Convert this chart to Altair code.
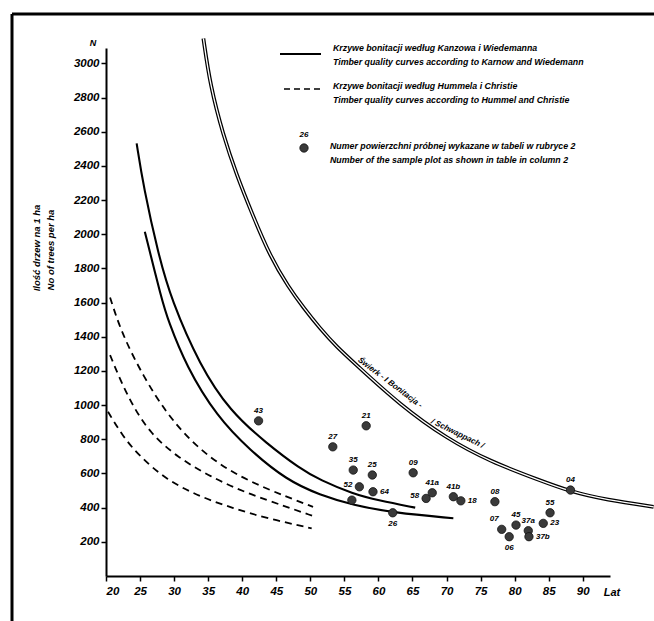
import altair as alt
import pandas as pd

# ---------------- data ----------------
X_TICKS = [20, 25, 30, 35, 40, 45, 50, 55, 60, 65, 70, 75, 80, 85, 90]
Y_TICKS = [200, 400, 600, 800, 1000, 1200, 1400, 1600, 1800, 2000, 2200, 2400, 2600, 2800, 3000]

# Schwappach (spruce, I quality class) - double line
SCHW_AGE = [34.3, 35.3, 37.2, 39.2, 41.4, 44.1, 46.8, 49.0, 51.4, 53.9, 56.5, 63.2, 70.0, 76.4, 83.7, 88.1, 93.5, 100.4]
SCHW_N = [3146, 2870, 2580, 2345, 2125, 1870, 1690, 1570, 1450, 1340, 1245, 1000, 805, 670, 560, 495, 445, 405]

# Kanzow & Wiedemann curves (solid)
KW_A_AGE = [24.5, 25.5, 27.7, 29.6, 33.8, 38.2, 43.6, 48.5, 51.4, 56.3, 60.0, 65.4]
KW_A_N = [2532, 2278, 1880, 1615, 1230, 965, 775, 628, 562, 480, 442, 400]
KW_B_AGE = [25.7, 28.2, 29.1, 31.8, 36.3, 41.1, 46.5, 51.4, 56.3, 62.2, 71.0]
KW_B_N = [2015, 1615, 1498, 1225, 932, 737, 562, 474, 415, 370, 338]

# Hummel & Christie curves (dashed)
HC_1_AGE = [20.6, 22.3, 25.5, 28.9, 32.3, 36.3, 41.1, 46.5, 50.4]
HC_1_N = [1630, 1420, 1166, 952, 796, 660, 552, 464, 405]
HC_2_AGE = [20.6, 22.1, 24.0, 26.5, 30.4, 35.3, 40.7, 46.5, 50.4]
HC_2_N = [1293, 1147, 991, 835, 698, 581, 484, 405, 351]
HC_3_AGE = [20.3, 22.5, 25.0, 28.9, 33.8, 38.7, 43.6, 50.2]
HC_3_N = [961, 815, 698, 562, 464, 396, 338, 279]

# sample plots
PT_LABEL = ["43", "21", "27", "35", "25", "52", "64", "", "26", "09", "58", "41a", "41b", "18",
            "08", "07", "06", "45", "37a", "37b", "23", "55", "04"]
PT_AGE = [42.4, 58.2, 53.3, 56.3, 59.1, 57.2, 59.2, 56.1, 62.1, 65.1, 67.0, 67.9, 71.0, 72.1,
          77.1, 78.1, 79.2, 80.2, 82.0, 82.1, 84.2, 85.2, 88.2]
PT_N = [908, 879, 756, 620, 591, 522, 493, 444, 370, 604, 454, 487, 464, 440,
        435, 273, 230, 298, 265, 230, 308, 370, 503]
PT_POS = ["above", "above", "above", "above", "above", "left", "right", "above", "below", "above",
          "left", "above", "above", "right", "above", "upleft", "below", "above", "above", "right",
          "right", "above", "above"]

# ---------------- layout ----------------
PAD_L, PAD_T, PAD_R, PAD_B = 106, 48, 44, 45
W, H = 654 - PAD_L - PAD_R, 621 - PAD_T - PAD_B
FONT = "Liberation Sans"

x_scale = alt.Scale(domain=[20, 94], nice=False, zero=False)
y_scale = alt.Scale(domain=[0, 3090], nice=False, zero=True)

axis_common = dict(grid=False, domainColor="black", domainWidth=2, tickColor="black", tickWidth=1.5,
                   tickSize=5, labelFont=FONT, labelFontStyle="italic", labelFontWeight="bold",
                   labelFontSize=11.5, labelColor="black", title=None, format="d")
x_enc = alt.X("age:Q", scale=x_scale, axis=alt.Axis(values=X_TICKS, labelPadding=4, **axis_common))
y_enc = alt.Y("n:Q", scale=y_scale, axis=alt.Axis(values=Y_TICKS, labelPadding=2, **axis_common))


def curve_df(age, n, name):
    return pd.DataFrame({"age": age, "n": n, "curve": name})


schw = curve_df(SCHW_AGE, SCHW_N, "schw")
kw = pd.concat([curve_df(KW_A_AGE, KW_A_N, "A"), curve_df(KW_B_AGE, KW_B_N, "B")])
hc = pd.concat([curve_df(HC_1_AGE, HC_1_N, "1"), curve_df(HC_2_AGE, HC_2_N, "2"),
                curve_df(HC_3_AGE, HC_3_N, "3")])

layers = []

schw_outer = alt.Chart(schw).mark_line(color="black", strokeWidth=3.8, interpolate="basis").encode(
    x=x_enc, y=y_enc)
schw_inner = alt.Chart(schw).mark_line(color="white", strokeWidth=1.3, interpolate="basis").encode(
    x=x_enc, y=y_enc)
kw_lines = alt.Chart(kw).mark_line(color="black", strokeWidth=2.1, interpolate="basis").encode(
    x=x_enc, y=y_enc, detail="curve:N")
hc_lines = alt.Chart(hc).mark_line(color="black", strokeWidth=1.8, strokeDash=[7, 5],
                                   interpolate="basis").encode(x=x_enc, y=y_enc, detail="curve:N")
layers += [schw_outer, schw_inner, kw_lines, hc_lines]

pts = pd.DataFrame({"age": PT_AGE, "n": PT_N, "lab": PT_LABEL, "pos": PT_POS})
circles = alt.Chart(pts).mark_circle(size=70, color="#3a3a3a", opacity=1, stroke="#111111",
                                     strokeWidth=0.8).encode(x=x_enc, y=y_enc)
layers.append(circles)

offsets = {
    "above": (0, -10, "center"),
    "below": (0, 11, "center"),
    "left": (-7, -2, "right"),
    "right": (7, 0, "left"),
    "upleft": (-3, -10, "right"),
}
for pos, (dx, dy, al) in offsets.items():
    layers.append(
        alt.Chart(pts).transform_filter(alt.datum.pos == pos).mark_text(
            dx=dx, dy=dy, align=al, baseline="middle", font=FONT, fontSize=8,
            fontStyle="italic", fontWeight="bold", color="black").encode(x=x_enc, y=y_enc, text="lab:N"))

# curve annotation along Schwappach line
ann = pd.DataFrame({"age": [61.7, 71.6], "n": [1130, 832],
                    "t": ["Świerk - I Bonitacja -", "/ Schwappach /"], "ang": [37, 26]})
for i in range(2):
    layers.append(
        alt.Chart(ann.iloc[[i]]).mark_text(align="center", baseline="middle", font=FONT, fontSize=8,
                                           fontStyle="italic", fontWeight="bold", color="black",
                                           angle=int(ann["ang"].iloc[i])).encode(
            x=x_enc, y=y_enc, text="t:N"))


def px_text(txt, px, py, size=8, align="left", angle=0):
    return alt.Chart(pd.DataFrame({"t": [txt]})).mark_text(
        align=align, baseline="middle", fontSize=size, font=FONT, fontStyle="italic",
        fontWeight="bold", angle=angle, color="black").encode(
        x=alt.value(px - PAD_L), y=alt.value(py - PAD_T), text="t:N")


def px_rule(x1, y1, x2, y2, width=1.5, dash=None):
    kw_ = dict(color="black", strokeWidth=width)
    if dash:
        kw_["strokeDash"] = dash
    return alt.Chart(pd.DataFrame({"a": [0]})).mark_rule(**kw_).encode(
        x=alt.value(x1 - PAD_L), x2=alt.value(x2 - PAD_L),
        y=alt.value(y1 - PAD_T), y2=alt.value(y2 - PAD_T))


# legend
layers.append(px_rule(280, 54, 321, 54, 1.8))
layers.append(px_rule(284, 89, 321, 89, 1.6, [6, 4]))
layers.append(px_text("Krzywe bonitacji według Kanzowa i Wiedemanna", 333, 48, 8.8))
layers.append(px_text("Timber quality curves according to Karnow and Wiedemann", 333, 62, 8.8))
layers.append(px_text("Krzywe bonitacji według Hummela i Christie", 333, 86, 8.8))
layers.append(px_text("Timber quality curves according to Hummel and Christie", 333, 100, 8.8))
layers.append(px_text("Numer powierzchni próbnej wykazane w tabeli    w rubryce 2", 330, 146, 8.8))
layers.append(px_text("Number of the sample plot as shown in table    in column 2", 330, 160, 8.8))
layers.append(px_text("26", 304, 135, 8, align="center"))
layers.append(alt.Chart(pd.DataFrame({"a": [0]})).mark_circle(
    size=70, color="#3a3a3a", opacity=1, stroke="#111111", strokeWidth=0.8).encode(
    x=alt.value(304 - PAD_L), y=alt.value(148 - PAD_T)))

# axis labels
layers.append(px_text("N", 93, 43, 9, align="center"))
layers.append(px_text("Lat", 612, 593, 11, align="center"))
layers.append(px_text("Ilość drzew na 1 ha", 37, 248, 9.5, align="center", angle=270))
layers.append(px_text("No of trees per ha", 51, 250, 9.5, align="center", angle=270))

# scan frame
layers.append(px_rule(12, 14, 12, 621, 3))
layers.append(px_rule(12, 14, 654, 14, 3))

chart = alt.layer(*layers).properties(
    width=W, height=H,
    autosize=alt.AutoSizeParams(type="none"),
    padding={"left": PAD_L, "top": PAD_T, "right": PAD_R, "bottom": PAD_B},
    background="white",
).configure_view(strokeWidth=0)

chart.save("out.html", embed_options={"renderer": "svg", "actions": False})
